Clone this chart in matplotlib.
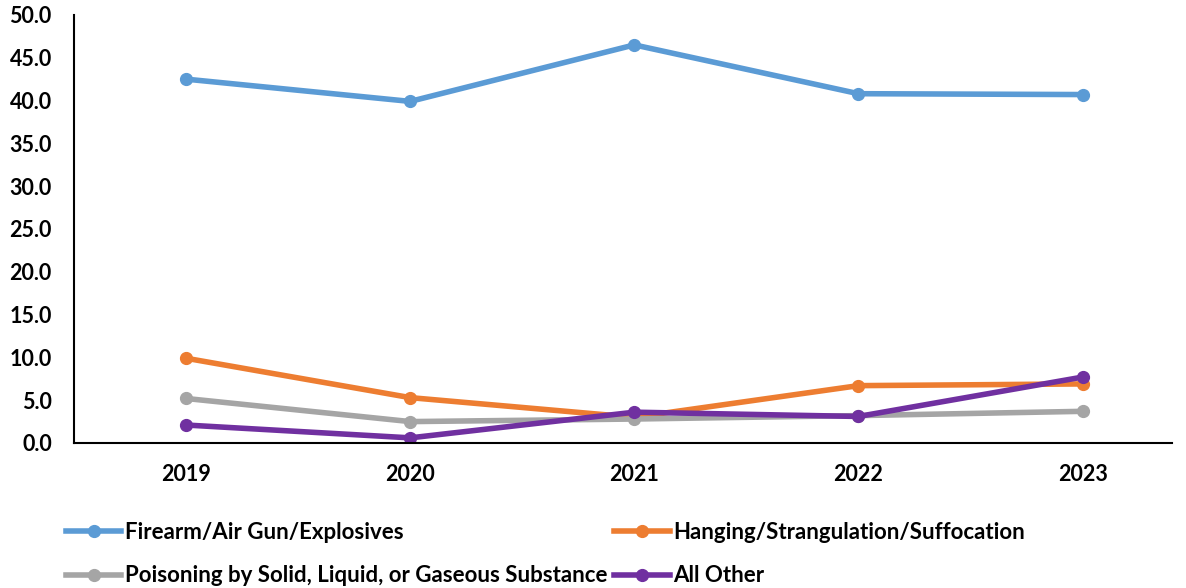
import matplotlib.pyplot as plt

plt.rcParams['font.family'] = ['Lato', 'DejaVu Sans']
plt.rcParams['font.weight'] = 'bold'

years = ['2019', '2020', '2021', '2022', '2023']
firearm = [42.5, 39.9, 46.5, 40.8, 40.7]
hanging = [9.9, 5.3, 3.0, 6.7, 6.9]
poisoning = [5.2, 2.5, 2.8, 3.2, 3.7]
all_other = [2.1, 0.6, 3.6, 3.1, 7.7]

fig = plt.figure(figsize=(11.86, 5.88), dpi=100)
ax = fig.add_axes([0.0624, 0.2466, 0.926, 0.728])

x = range(len(years))
style = dict(linewidth=4, marker='o', markersize=8.5)
l1, = ax.plot(x, firearm, color='#5B9BD5', label='Firearm/Air Gun/Explosives', **style)
l2, = ax.plot(x, hanging, color='#ED7D31', label='Hanging/Strangulation/Suffocation', **style)
l3, = ax.plot(x, poisoning, color='#A5A5A5', label='Poisoning by Solid, Liquid, or Gaseous Substance', **style)
l4, = ax.plot(x, all_other, color='#7030A0', label='All Other', **style)

ax.set_xlim(-0.5, 4.4)
ax.set_ylim(0, 50)
ax.set_yticks([i * 5 for i in range(11)])
ax.set_yticklabels([f'{i * 5:.1f}' for i in range(11)], fontsize=15.5, fontweight='bold')
ax.set_xticks(list(x))
ax.set_xticklabels(years, fontsize=15.5, fontweight='bold')
ax.tick_params(axis='both', length=0)
ax.tick_params(axis='y', pad=16)
ax.tick_params(axis='x', pad=15)

for side in ['top', 'right']:
    ax.spines[side].set_visible(False)
for side in ['left', 'bottom']:
    ax.spines[side].set_linewidth(1.5)

fig.legend(handles=[l1, l3, l2, l4], loc='upper left', bbox_to_anchor=(0.0556, 0.112),
           ncol=2, frameon=False, fontsize=16, handlelength=2.5, handletextpad=0.18,
           columnspacing=0.27, labelspacing=1.0, borderaxespad=0, borderpad=0)

fig.savefig('out.png', dpi=100)
